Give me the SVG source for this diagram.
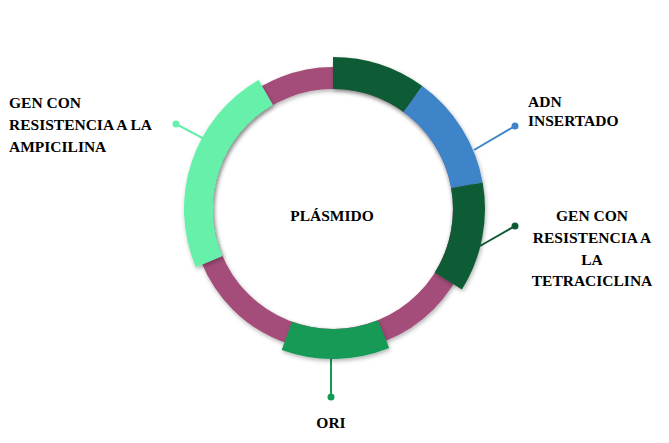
<svg xmlns="http://www.w3.org/2000/svg" width="669" height="443" viewBox="0 0 669 443">
<defs>
<filter id="sh" x="-20%" y="-20%" width="140%" height="140%">
<feDropShadow dx="1" dy="2" stdDeviation="2" flood-color="#000" flood-opacity="0.3"/>
</filter>
</defs>
<style>
text{font-family:"Liberation Serif","Times New Roman",serif;font-weight:bold;font-size:15.5px;fill:#000}
.ln{stroke-width:2;fill:none}
</style>
<rect width="669" height="443" fill="#fff"/>
<g id="connectors">
<line class="ln" x1="176" y1="124" x2="210" y2="142" stroke="#66f0aa"/>
<circle cx="176" cy="124" r="3.5" fill="#66f0aa"/>
<line class="ln" x1="515" y1="126" x2="474" y2="150" stroke="#3d85c8"/>
<circle cx="515" cy="126" r="3.5" fill="#3d85c8"/>
<line class="ln" x1="515" y1="226" x2="480" y2="246" stroke="#0b5c35"/>
<circle cx="515" cy="226" r="3.5" fill="#0b5c35"/>
<line class="ln" x1="331" y1="350" x2="331" y2="397" stroke="#139a56"/>
<circle cx="331" cy="397" r="3.5" fill="#139a56"/>
</g>
<g id="ring" filter="url(#sh)">
<circle cx="333" cy="209" r="131" fill="none" stroke="#a44e7a" stroke-width="22"/>
</g>
<g id="tetraciclina-top" filter="url(#sh)">
<path d="M333,57 A152,152 0 0 1 422.35,86.03 L403.54,111.92 A120,120 0 0 0 333,89 Z" fill="#0b5c35"/>
</g>
<g id="adn" filter="url(#sh)">
<path d="M422.35,86.03 A152,152 0 0 1 482.69,182.61 L451.18,188.16 A120,120 0 0 0 403.54,111.92 Z" fill="#3d85c8"/>
</g>
<g id="tetraciclina" filter="url(#sh)">
<path d="M482.69,182.61 A152,152 0 0 1 461.9,289.55 L434.76,272.59 A120,120 0 0 0 451.18,188.16 Z" fill="#0b5c35"/>
</g>
<g id="ori" filter="url(#sh)">
<path d="M389.19,348.08 A150,150 0 0 1 281.7,349.95 L291.96,321.76 A120,120 0 0 0 377.95,320.26 Z" fill="#139a56"/>
</g>
<g id="ampicilina" filter="url(#sh)">
<path d="M195.85,267.21 A149,149 0 0 1 258.5,79.97 L273,105.08 A120,120 0 0 0 222.54,255.88 Z" fill="#66f0aa"/>
</g>
<g id="labels">
<text x="332" y="221" text-anchor="middle">PLÁSMIDO</text>
<text x="9" y="108">GEN CON</text>
<text x="9" y="130">RESISTENCIA A LA</text>
<text x="9" y="152">AMPICILINA</text>
<text x="528" y="107">ADN</text>
<text x="528" y="125.5">INSERTADO</text>
<text x="592" y="221" text-anchor="middle">GEN CON</text>
<text x="592" y="243" text-anchor="middle">RESISTENCIA A</text>
<text x="592" y="264.5" text-anchor="middle">LA</text>
<text x="592" y="286" text-anchor="middle">TETRACICLINA</text>
<text x="331" y="428" text-anchor="middle">ORI</text>
</g>
</svg>
